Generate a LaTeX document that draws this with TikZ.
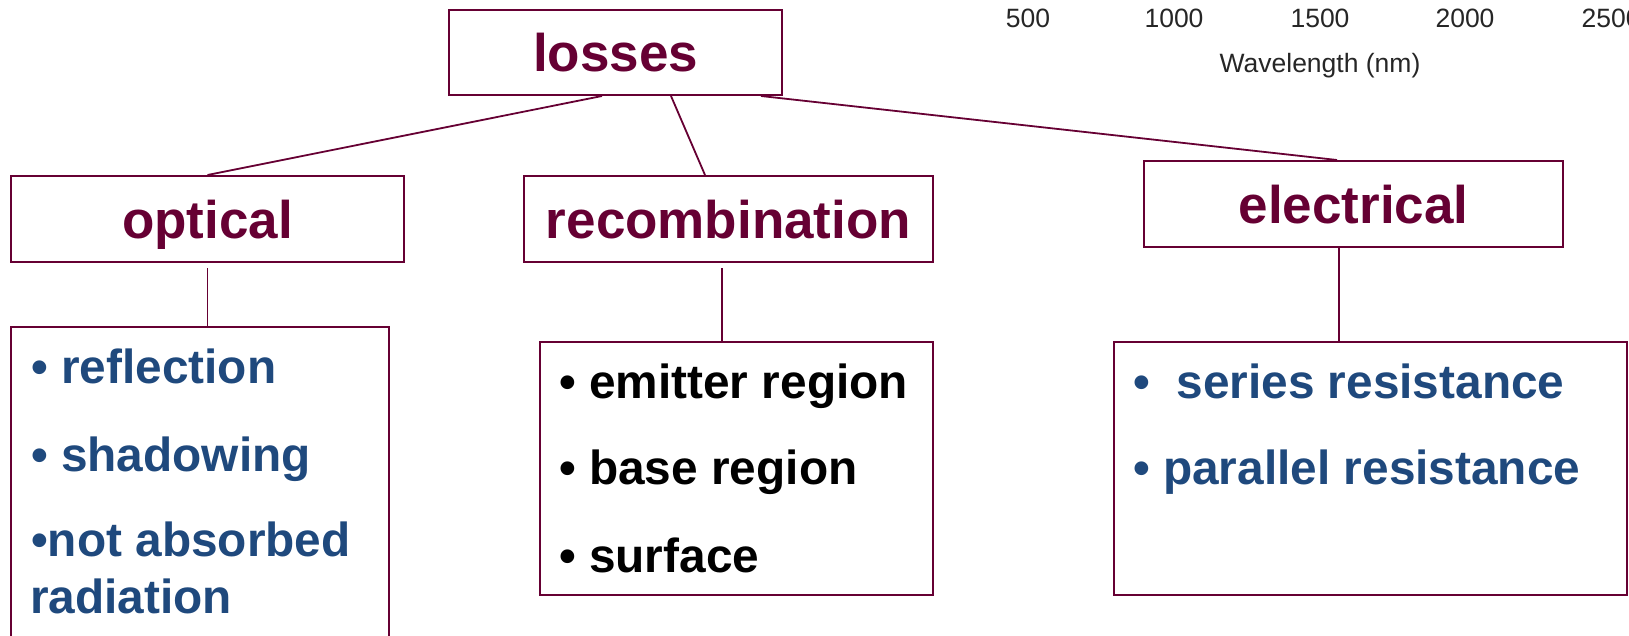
\documentclass[tikz,border=0pt]{standalone}
\usepackage{fontspec}
\setmainfont{Liberation Sans}
\usetikzlibrary{calc}
\definecolor{maroon}{HTML}{660033}
\definecolor{bulletblue}{HTML}{1F497D}
\begin{document}
\begin{tikzpicture}[x=1pt,y=-1pt,
  box/.style={draw=maroon, line width=2pt, rectangle, inner sep=0pt, text depth=0pt},
  head/.style={box, font=\fontsize{53}{60}\selectfont\bfseries, text=maroon},
  conn/.style={draw=maroon, line width=1.8pt},
  item/.style={anchor=base west, inner sep=0pt, font=\fontsize{47.8}{56}\selectfont\bfseries},
  axislabel/.style={inner sep=0pt, anchor=base, text=black!85, font=\fontsize{26.5}{30}\selectfont}]
\useasboundingbox (0,0) rectangle (1629,635);
\clip (0,0) rectangle (1629,635);

% axis remnants (top right)
\node[axislabel] (t500)  at (1028,27) {500};
\node[axislabel] (t1000) at (1174,27) {1000};
\node[axislabel] (t1500) at (1320,27) {1500};
\node[axislabel] (t2000) at (1465,27) {2000};
\node[axislabel] (t2500) at (1611,27) {2500};
\node[axislabel] (wl)    at (1320,72) {Wavelength (nm)};

% header boxes
\node[head, minimum width=333pt, minimum height=85pt] (losses)  at (615.5,52.5) {losses};
\node[head, minimum width=393pt, minimum height=86pt] (optical) at (207.5,219) {optical};
\node[head, minimum width=409pt, minimum height=86pt] (recomb)  at (728.5,219) {recombination};
\node[head, minimum width=419pt, minimum height=86pt] (elec)    at (1353.5,204) {electrical};

% item boxes
\node[box, minimum width=378pt, minimum height=373pt] (optbox) at (200,513.5) {};
\node[box, minimum width=393pt, minimum height=253pt] (recbox) at (736.5,468.5) {};
\node[box, minimum width=513pt, minimum height=253pt] (elbox)  at (1370.5,468.5) {};

% connectors from losses
\draw[conn] ([xshift=154pt]losses.south west) -- (optical.north);
\draw[conn] ([xshift=223pt]losses.south west) -- ([xshift=182pt]recomb.north west);
\draw[conn] ([xshift=313pt]losses.south west) -- ([xshift=194pt]elec.north west);

% vertical connectors
\coordinate (ov) at (optical.south);
\coordinate (rv) at ([xshift=-6.5pt]recomb.south);
\coordinate (ev) at ([xshift=-14.5pt]elec.south);
\draw[conn] ([yshift=-5pt]ov) -- (ov |- optbox.north);
\draw[conn] ([yshift=-5pt]rv) -- (rv |- recbox.north);
\draw[conn] (ev) -- (ev |- elbox.north);

% optical items
\node[item, text=bulletblue] (o1) at (31,383) {• reflection};
\node[item, text=bulletblue] (o2) at (31,471) {• shadowing};
\node[item, text=bulletblue] (o3) at (31,556) {•not absorbed};
\node[item, text=bulletblue] (o4) at (30,613) {radiation};

% recombination items
\node[item, text=black] (r1) at (559,398) {• emitter region};
\node[item, text=black] (r2) at (559,484) {• base region};
\node[item, text=black] (r3) at (559,572) {• surface};

% electrical items
\node[item, text=bulletblue] (e1) at (1133,398) {•\ \ series resistance};
\node[item, text=bulletblue] (e2) at (1133,484) {• parallel resistance};
\end{tikzpicture}
\end{document}
